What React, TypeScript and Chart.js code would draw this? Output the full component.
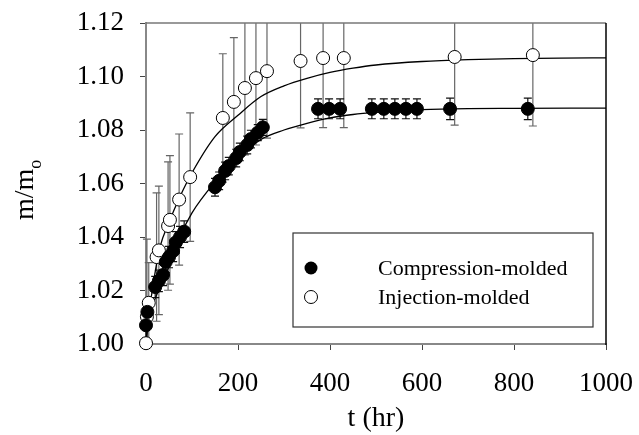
import React, { useEffect, useRef } from "react";
import { Chart, registerables } from "chart.js";
Chart.register(...registerables);

// Compression-molded (filled circles)
const compT = [0, 3, 20, 28, 37, 43, 50, 59, 65, 74, 83, 150, 159, 172, 180, 196, 204, 220, 228, 243, 254, 374, 398, 422, 491, 517, 541, 565, 589, 661, 830];
const compY = [1.007, 1.012, 1.0213, 1.0236, 1.0258, 1.0307, 1.0325, 1.0348, 1.038, 1.040, 1.042, 1.0586, 1.061, 1.0647, 1.0665, 1.0695, 1.0718, 1.0744, 1.0766, 1.079, 1.081, 1.0879, 1.0879, 1.0879, 1.0879, 1.0879, 1.0879, 1.0879, 1.0879, 1.0879, 1.0879];
const compErr = [0.005, 0.004, 0.004, 0.004, 0.004, 0.004, 0.004, 0.004, 0.004, 0.004, 0.004, 0.0033, 0.0033, 0.0033, 0.0033, 0.0033, 0.0033, 0.0033, 0.0033, 0.003, 0.003, 0.0037, 0.0037, 0.0037, 0.0037, 0.0037, 0.0037, 0.0037, 0.0037, 0.004, 0.004];

// Injection-molded (open circles)
const injT = [0, 2, 6, 23, 28, 48, 52, 72, 96, 167, 191, 215, 239, 263, 336, 385, 430, 671, 841];
const injY = [1.0003, 1.0102, 1.0154, 1.0325, 1.035, 1.0441, 1.0464, 1.054, 1.0624, 1.0845, 1.0905, 1.0957, 1.0994, 1.102, 1.1058, 1.1069, 1.1069, 1.1073, 1.108];
const injErr = [0.002, 0.029, 0.015, 0.024, 0.024, 0.024, 0.024, 0.0245, 0.024, 0.024, 0.024, 0.025, 0.025, 0.025, 0.025, 0.026, 0.026, 0.0255, 0.0265];

// Fitted curves
const fitCompT = [0, 5, 10, 20, 30, 50, 75, 100, 150, 200, 250, 300, 350, 400, 450, 500, 600, 700, 800, 1000];
const fitCompY = [1.000, 1.008, 1.0115, 1.017, 1.021, 1.029, 1.0405, 1.049, 1.0605, 1.0695, 1.0765, 1.0800, 1.0825, 1.0845, 1.0858, 1.0866, 1.0876, 1.0880, 1.0881, 1.0882];
const fitInjT = [0, 5, 10, 20, 30, 50, 75, 100, 150, 200, 250, 300, 350, 400, 450, 500, 600, 700, 800, 900, 1000];
const fitInjY = [1.000, 1.011, 1.016, 1.027, 1.036, 1.0455, 1.0555, 1.064, 1.0775, 1.0855, 1.0925, 1.0965, 1.0993, 1.1015, 1.1031, 1.1043, 1.1056, 1.1063, 1.1067, 1.1069, 1.107];

const xTicks = [0, 200, 400, 600, 800, 1000];
const yTicks = [1.0, 1.02, 1.04, 1.06, 1.08, 1.1, 1.12];

const legendLabels = ["Compression-molded", "Injection-molded"];

const SERIF = '"Liberation Serif", "Times New Roman", serif';

function zip(t: number[], v: number[]) {
  return t.map((x, i) => ({ x, y: v[i] }));
}

const errorBarPlugin = {
  id: "errorBars",
  beforeDatasetsDraw(chart: any) {
    const { ctx, chartArea, scales } = chart;
    const xs = scales.x, ys = scales.y;
    ctx.save();
    ctx.beginPath();
    ctx.rect(chartArea.left - 12, chartArea.top, chartArea.right - chartArea.left + 24, chartArea.bottom - chartArea.top);
    ctx.clip();
    const draw = (t: number[], v: number[], e: number[], color: string) => {
      ctx.strokeStyle = color;
      ctx.lineWidth = 1.2;
      for (let i = 0; i < t.length; i++) {
        const px = xs.getPixelForValue(t[i]);
        const top = ys.getPixelForValue(v[i] + e[i]);
        const bot = ys.getPixelForValue(v[i] - e[i]);
        ctx.beginPath();
        ctx.moveTo(px, top); ctx.lineTo(px, bot);
        ctx.moveTo(px - 4, top); ctx.lineTo(px + 4, top);
        ctx.moveTo(px - 4, bot); ctx.lineTo(px + 4, bot);
        ctx.stroke();
      }
    };
    draw(injT, injY, injErr, "#666");
    draw(compT, compY, compErr, "#111");
    ctx.restore();
  },
};

const decorPlugin = {
  id: "decor",
  afterDraw(chart: any) {
    const { ctx, chartArea } = chart;
    const { left, right, top, bottom } = chartArea;
    ctx.save();
    // top & right frame
    ctx.lineWidth = 1.5;
    ctx.strokeStyle = "#777";
    ctx.beginPath(); ctx.moveTo(left, top); ctx.lineTo(right, top); ctx.stroke();
    ctx.strokeStyle = "#000";
    ctx.beginPath(); ctx.moveTo(right, top); ctx.lineTo(right, bottom + 1); ctx.stroke();

    // y-axis title m/m_o
    ctx.fillStyle = "#000";
    ctx.translate(33, 220);
    ctx.rotate(-Math.PI / 2);
    ctx.textBaseline = "alphabetic";
    ctx.textAlign = "left";
    ctx.font = `28px ${SERIF}`;
    ctx.fillText("m/m", 0, 0);
    const w = ctx.measureText("m/m").width;
    ctx.font = `18px ${SERIF}`;
    ctx.fillText("o", w, 8);
    ctx.restore();

    // legend
    ctx.save();
    const bx = left + 147, by = top + 210, bw = 300, bh = 94;
    ctx.strokeStyle = "#333";
    ctx.lineWidth = 1.2;
    ctx.strokeRect(bx, by, bw, bh);
    ctx.font = `22px ${SERIF}`;
    ctx.textBaseline = "middle";
    ctx.fillStyle = "#000";
    const rows = [by + 35, by + 64];
    ctx.beginPath(); ctx.arc(bx + 18, rows[0], 6.5, 0, Math.PI * 2);
    ctx.fillStyle = "#000"; ctx.fill();
    ctx.beginPath(); ctx.arc(bx + 18, rows[1], 6.5, 0, Math.PI * 2);
    ctx.fillStyle = "#fff"; ctx.fill(); ctx.strokeStyle = "#000"; ctx.lineWidth = 1; ctx.stroke();
    ctx.fillStyle = "#000";
    ctx.fillText(legendLabels[0], bx + 85, rows[0] + 1);
    ctx.fillText(legendLabels[1], bx + 85, rows[1] + 1);
    ctx.restore();
  },
};

export default function App() {
  const ref = useRef<HTMLCanvasElement>(null);
  useEffect(() => {
    document.body.style.margin = "0";
    const chart = new Chart(ref.current as HTMLCanvasElement, {
      type: "scatter",
      data: {
        datasets: [
          {
            label: legendLabels[0],
            data: zip(compT, compY),
            pointRadius: 6.5,
            pointBackgroundColor: "#000",
            pointBorderColor: "#000",
            pointBorderWidth: 1,
            showLine: false,
            clip: false,
            order: 0,
          } as any,
          {
            label: legendLabels[1],
            data: zip(injT, injY),
            pointRadius: 6.5,
            pointBackgroundColor: "#fff",
            pointBorderColor: "#000",
            pointBorderWidth: 1,
            showLine: false,
            clip: false,
            order: 0,
          } as any,
          {
            label: "fit-comp",
            data: zip(fitCompT, fitCompY),
            showLine: true,
            borderColor: "#000",
            borderWidth: 1.3,
            pointRadius: 0,
            cubicInterpolationMode: "monotone",
            order: 1,
          } as any,
          {
            label: "fit-inj",
            data: zip(fitInjT, fitInjY),
            showLine: true,
            borderColor: "#000",
            borderWidth: 1.3,
            pointRadius: 0,
            cubicInterpolationMode: "monotone",
            order: 1,
          } as any,
        ],
      },
      options: {
        responsive: false,
        animation: false,
        layout: { padding: { top: 23, right: 33, left: 0, bottom: 0 } },
        plugins: { legend: { display: false }, tooltip: { enabled: false } },
        scales: {
          x: {
            type: "linear",
            min: 0,
            max: 1000,
            afterBuildTicks: (s: any) => { s.ticks = xTicks.map((v) => ({ value: v })); },
            afterFit: (s: any) => { s.height = 91; s.paddingLeft = 0; s.paddingRight = 0; },
            ticks: { color: "#000", font: { family: SERIF, size: 27 }, padding: 18, maxRotation: 0, callback: (v: any) => String(v) },
            grid: { drawOnChartArea: false, drawTicks: true, tickLength: 6, color: "#444" },
            border: { display: true, color: "#888", width: 2 },
            title: { display: true, text: "t (hr)", color: "#000", font: { family: SERIF, size: 28 }, padding: { top: 0, bottom: 0 } },
          },
          y: {
            type: "linear",
            min: 1.0,
            max: 1.12,
            afterBuildTicks: (s: any) => { s.ticks = yTicks.map((v) => ({ value: v })); },
            afterFit: (s: any) => { s.width = 146; s.paddingTop = 0; s.paddingBottom = 0; },
            ticks: { color: "#000", font: { family: SERIF, size: 27 }, padding: 16, callback: (v: any) => Number(v).toFixed(2) },
            grid: { drawOnChartArea: false, drawTicks: true, tickLength: 6, color: "#444" },
            border: { display: true, color: "#888", width: 2 },
          },
        },
      },
      plugins: [errorBarPlugin, decorPlugin],
    });
    return () => chart.destroy();
  }, []);
  return (
    <div style={{ width: 639, height: 435, position: "relative", background: "#fff" }}>
      <canvas ref={ref} width={639} height={435} style={{ width: 639, height: 435 }} />
    </div>
  );
}
